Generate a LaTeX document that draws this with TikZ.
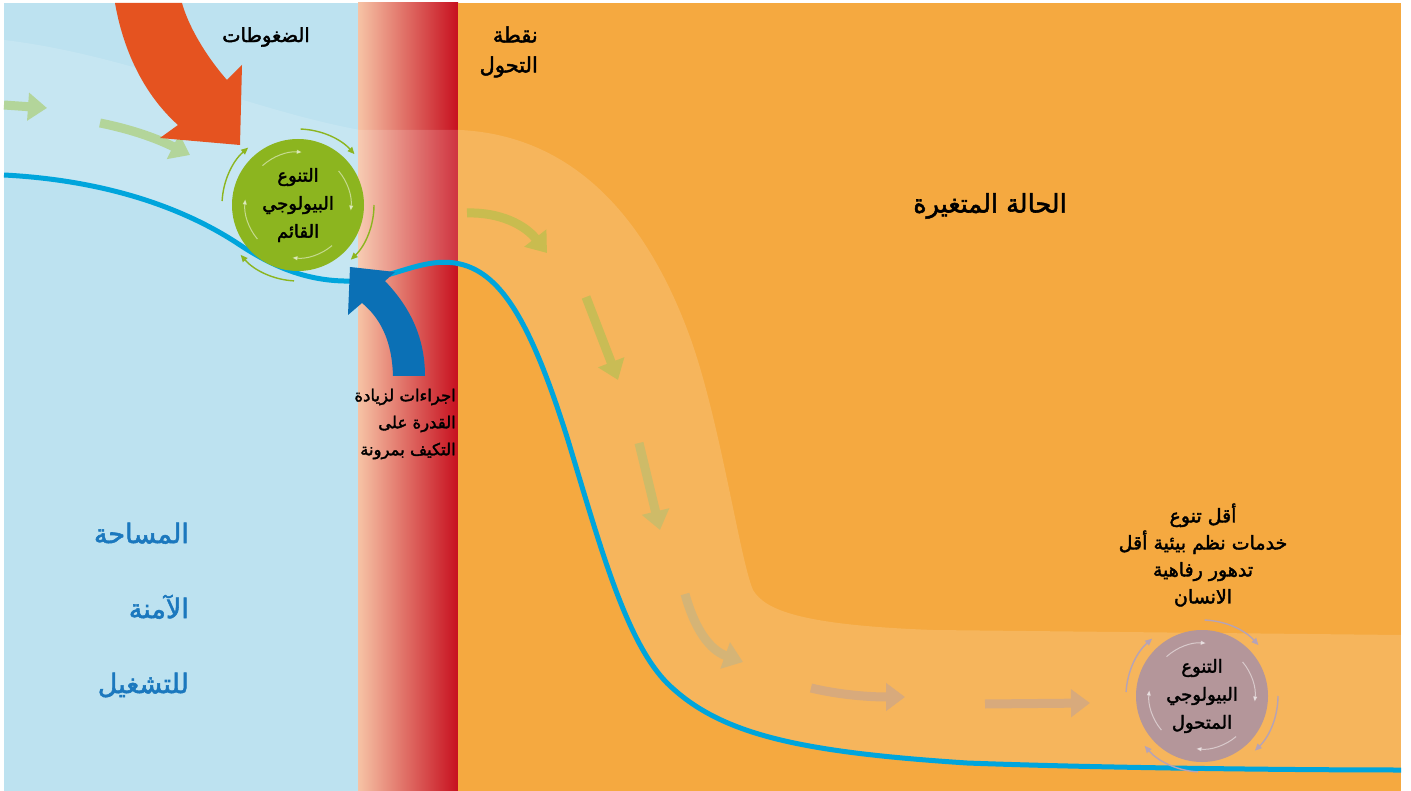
\documentclass[tikz,border=0pt]{standalone}
\usepackage{fontspec}
\usetikzlibrary{arrows.meta}
\newfontfamily\arabicfont[Script=Arabic,FakeBold=2]{DejaVu Sans}
\TeXXeTstate=1
\newcommand{\artxt}[1]{\beginR #1\endR}
\definecolor{safeblue}{HTML}{BDE2F0}
\definecolor{shiftorange}{HTML}{F5A940}
\definecolor{edgepeach}{HTML}{F6C3A5}
\definecolor{edgemid}{HTML}{E47856}
\definecolor{edgered}{HTML}{C7101F}
\definecolor{linecyan}{HTML}{00A5DC}
\definecolor{pressred}{HTML}{E55320}
\definecolor{actblue}{HTML}{0B70B5}
\definecolor{nowgreen}{HTML}{8CB51F}
\definecolor{newmauve}{HTML}{B4969A}
\definecolor{mauvearc}{HTML}{B6A3B6}
\definecolor{labelblue}{HTML}{1B78BE}
\definecolor{flowa}{HTML}{B3D59A}
\definecolor{flowb}{HTML}{C9BC4F}
\definecolor{flowc}{HTML}{C9BC55}
\definecolor{flowd}{HTML}{CEBB68}
\definecolor{flowe}{HTML}{D5B476}
\definecolor{flowf}{HTML}{D8AA7C}
\begin{document}
\begin{tikzpicture}[x=1pt, y=-1pt,
  lbl/.style={text=black, inner sep=0pt, align=center},
  flow/.style={line width=9pt, -{Triangle[length=19pt, width=27pt]}},
  loopout/.style={line width=1.4pt, -{Triangle[length=7pt, width=6pt]}},
  loopin/.style={line width=1pt, white, opacity=.5, -{Triangle[length=5pt, width=4pt]}},
  bio/.style={circle, minimum size=132pt, inner sep=0pt, align=center,
    font=\arabicfont\fontsize{18}{28}\selectfont}]
\useasboundingbox (0,0) rectangle (1411,791);
\fill[white] (0,0) rectangle (1411,791);
% the three zones
\fill[safeblue] (4,3) rectangle (358,791);
\shade[left color=edgepeach, middle color=edgemid, right color=edgered] (358,3) rectangle (458,791);
\fill[shiftorange] (458,3) rectangle (1401,791);
% pathway band, above the state line
\fill[white, opacity=.15] (4,40) .. controls (130,55) and (250,110) .. (360,130) -- (460,130)
  .. controls (560,135) and (640,200) .. (690,337) .. controls (720,420) and (740,560) .. (753,590)
  .. controls (765,610) and (800,625) .. (933,630) -- (1401,635) -- (1401,770)
  .. controls (1300,770) and (1100,768) .. (967,763) .. controls (800,752) and (720,735) .. (667,683)
  .. controls (625,640) and (600,545) .. (567,437) .. controls (530,320) and (500,270) .. (455,263)
  .. controls (420,258) and (390,280) .. (352,281) .. controls (310,282) and (275,268) .. (240,245)
  .. controls (180,205) and (100,180) .. (4,175) -- cycle;
% flow arrows along the band
\draw[flow, flowa] (4,105) -- (47,108);
\draw[flow, flowa] (100,123) .. controls (135,130) and (160,140) .. (190,155);
\draw[flow, flowb] (467,213) .. controls (500,212) and (525,225) .. (547,253);
\draw[flow, flowc] (586,297) -- (618,380);
\draw[flow, flowd] (639,443) -- (660,530);
\draw[flow, flowe] (685,594) .. controls (695,630) and (710,650) .. (743,662);
\draw[flow, flowf] (811,688) .. controls (840,695) and (870,697) .. (905,697);
\draw[flow, flowf] (985,704) -- (1090,703);
% state line
\draw[linecyan, line width=5pt] (4,175) .. controls (100,180) and (180,205) .. (240,245)
  .. controls (275,268) and (310,282) .. (352,281) .. controls (390,280) and (420,258) .. (455,263)
  .. controls (500,270) and (530,320) .. (567,437) .. controls (600,545) and (625,640) .. (667,683)
  .. controls (720,735) and (800,752) .. (967,763) .. controls (1100,768) and (1300,770) .. (1401,770);
% pressures arrow
\fill[pressred] (115,3) .. controls (125,60) and (150,100) .. (178,125) -- (160,138) -- (240,145)
  -- (242,65) -- (227,80) .. controls (205,55) and (188,25) .. (182,3) -- cycle;
% resilience measures arrow
\fill[actblue] (393,376) .. controls (392,340) and (380,318) .. (362,303) -- (348,315) -- (350,267)
  -- (395,272) -- (385,281) .. controls (408,305) and (425,335) .. (425,376) -- cycle;
% biodiversity now and after the shift
\node[bio, fill=nowgreen] (now) at (298,205) {\artxt{التنوع}\\\artxt{البيولوجي}\\\artxt{القائم}};
\node[bio, fill=newmauve] (after) at (1202,696) {\artxt{التنوع}\\\artxt{البيولوجي}\\\artxt{المتحول}};
\foreach \c/\col in {now/nowgreen, after/mauvearc} {
  \foreach \a in {-88,0,93,183}
    \draw[loopout, \col] (\c.center) ++(\a:76) arc[start angle=\a, end angle=\a+46, radius=76];
  \foreach \a in {-132,-40,50,140}
    \draw[loopin] (\c.center) ++(\a:53) arc[start angle=\a, end angle=\a+46, radius=53];
}
% labels
\node[lbl, font=\arabicfont\fontsize{19.5}{30}\selectfont] (pressures) at (266,37) {\artxt{الضغوطات}};
\node[lbl, align=right, anchor=east, font=\arabicfont\fontsize{21}{30}\selectfont] (tipping)
  at (538,52) {\artxt{نقطة}\\\artxt{التحول}};
\node[lbl, align=right, anchor=east, font=\arabicfont\fontsize{16.5}{27}\selectfont] (measures)
  at (456,424) {\artxt{اجراءات لزيادة}\\\artxt{القدرة على}\\\artxt{التكيف بمرونة}};
\node[lbl, font=\arabicfont\fontsize{25.5}{30}\selectfont] (regime) at (990,206) {\artxt{الحالة المتغيرة}};
\node[lbl, align=right, anchor=east, text=labelblue, font=\arabicfont\fontsize{27}{75}\selectfont] (safe)
  at (189,610) {\artxt{المساحة}\\\artxt{الآمنة}\\\artxt{للتشغيل}};
\node[lbl, font=\arabicfont\fontsize{19}{27}\selectfont] (losses) at (1203,555)
  {\artxt{أقل تنوع}\\\artxt{خدمات نظم بيئية أقل}\\\artxt{تدهور رفاهية}\\\artxt{الانسان}};
\end{tikzpicture}
\end{document}
